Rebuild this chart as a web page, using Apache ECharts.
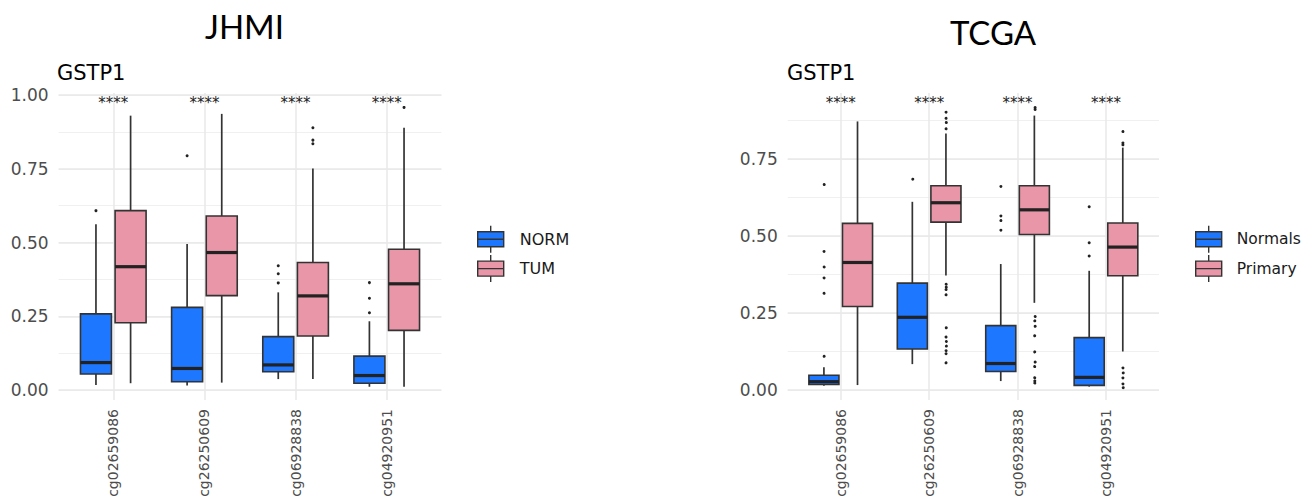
<!DOCTYPE html>
<html><head><meta charset="utf-8">
<script src="https://cdn.jsdelivr.net/npm/echarts@6/dist/echarts.min.js"></script>
<style>html,body{margin:0;padding:0;background:#fff}#c{width:1312px;height:499px}</style>
</head><body><div id="c"></div>
<script>
// ---------- data ----------
const categories = ['cg02659086', 'cg26250609', 'cg06928838', 'cg04920951'];

// JHMI boxes: [min, q1, median, q3, max]
const jhmiNorm = [[0.017, 0.054, 0.093, 0.258, 0.562], [0.015, 0.028, 0.073, 0.280, 0.495], [0.037, 0.062, 0.085, 0.181, 0.331], [0.011, 0.023, 0.049, 0.115, 0.233]];
const jhmiTum = [[0.023, 0.228, 0.418, 0.608, 0.930], [0.025, 0.320, 0.466, 0.590, 0.936], [0.037, 0.183, 0.319, 0.432, 0.751], [0.011, 0.202, 0.360, 0.477, 0.889]];
// outliers: [categoryIndex, value]
const jhmiNormOutliers = [[0, 0.608], [1, 0.794], [2, 0.421], [2, 0.394], [2, 0.363], [3, 0.364], [3, 0.311], [3, 0.262]];
const jhmiTumOutliers = [[2, 0.889], [2, 0.847], [2, 0.835], [3, 0.958]];
const jhmiSig = ['****', '****', '****', '****'];
const jhmiYTicks = [0, 0.25, 0.5, 0.75, 1.0];

// TCGA boxes: [min, q1, median, q3, max]
const tcgaNormals = [[0.014, 0.018, 0.027, 0.048, 0.074], [0.084, 0.133, 0.236, 0.347, 0.611], [0.029, 0.060, 0.086, 0.209, 0.409], [0.011, 0.015, 0.041, 0.170, 0.387]];
const tcgaPrimary = [[0.016, 0.271, 0.414, 0.541, 0.872], [0.372, 0.545, 0.608, 0.663, 0.833], [0.283, 0.505, 0.585, 0.663, 0.891], [0.125, 0.371, 0.464, 0.542, 0.787]];
const tcgaNormalsOutliers = [[0, 0.112], [0, 0.316], [0, 0.366], [0, 0.402], [0, 0.452], [0, 0.670], [1, 0.688], [2, 0.663], [2, 0.567], [2, 0.552], [2, 0.521], [3, 0.595], [3, 0.478], [3, 0.435]];
const tcgaPrimaryOutliers = [[1, 0.904], [1, 0.884], [1, 0.872], [1, 0.850], [1, 0.346], [1, 0.337], [1, 0.328], [1, 0.311], [1, 0.205], [1, 0.174], [1, 0.161], [1, 0.146], [1, 0.130], [1, 0.120], [1, 0.090],
  [2, 0.921], [2, 0.915], [2, 0.243], [2, 0.228], [2, 0.211], [2, 0.179], [2, 0.127], [2, 0.095], [2, 0.079], [2, 0.043], [2, 0.033], [2, 0.026],
  [3, 0.841], [3, 0.804], [3, 0.798], [3, 0.074], [3, 0.059], [3, 0.041], [3, 0.022], [3, 0.011]];
const tcgaSig = ['****', '****', '****', '****'];
const tcgaYTicks = [0, 0.25, 0.5, 0.75];
const tcgaMinorMax = 0.875;

// ---------- style ----------
const BLUE = '#1e78ff', PINK = '#e896a8', EDGE = '#333333';
const FONT = 'DejaVu Sans';
const BOX_HALF = 0.17, DODGE = 0.19;
const ICON = 'path://M13,0L13,6M0,6L26,6L26,21L0,21ZM0,13.5L26,13.5M13,21L13,27';

function band(api, idx) {
  const x0 = api.coord([idx, 0])[0];
  const w = Math.abs(api.coord([1, 0])[0] - api.coord([0, 0])[0]);
  return { x0, w };
}
function boxRenderer(dodge, fill) {
  return function (params, api) {
    const idx = api.value(0);
    const b = band(api, idx);
    const cx = b.x0 + dodge * DODGE * b.w;
    const hw = BOX_HALF * b.w;
    const y = k => api.coord([idx, api.value(k)])[1];
    const yMin = y(1), yQ1 = y(2), yMed = y(3), yQ3 = y(4), yMax = y(5);
    const ls = { stroke: EDGE, lineWidth: 1.7 };
    return { type: 'group', children: [
      { type: 'line', shape: { x1: cx, y1: yMax, x2: cx, y2: yQ3 }, style: ls },
      { type: 'line', shape: { x1: cx, y1: yQ1, x2: cx, y2: yMin }, style: ls },
      { type: 'rect', shape: { x: cx - hw, y: yQ3, width: 2 * hw, height: yQ1 - yQ3 }, style: { fill: fill, stroke: EDGE, lineWidth: 1.6 } },
      { type: 'line', shape: { x1: cx - hw, y1: yMed, x2: cx + hw, y2: yMed }, style: { stroke: '#222', lineWidth: 3.2 } }
    ] };
  };
}
function outlierRenderer(dodge) {
  return function (params, api) {
    const idx = api.value(0);
    const b = band(api, idx);
    const p = api.coord([idx, api.value(1)]);
    return { type: 'circle', shape: { cx: b.x0 + dodge * DODGE * b.w, cy: p[1], r: 1.5 }, style: { fill: '#222' } };
  };
}
function sigRenderer(labels, yVal) {
  return function (params, api) {
    const idx = api.value(0);
    const p = api.coord([idx, yVal]);
    return { type: 'text', x: p[0], y: p[1], style: { text: labels[params.dataIndex], align: 'center', verticalAlign: 'middle', fontSize: 15, fontFamily: FONT, fill: '#222' } };
  };
}

const boxData = arr => arr.map((b, i) => [i].concat(b));
const sigData = arr => arr.map((s, i) => [i, 0]);

// ---------- layout (pixels) ----------
const L = { minor: { left: 58.6, width: 382.8, top: 95, height: 295 }, major: { left: 58.6, width: 382.8, top: 95, height: 295 }, box: { left: 67.7, width: 364.6, top: 93, height: 307 } };
const R = { minor: { left: 787.7, width: 371.3, top: 120.5, height: 269.5 }, major: { left: 787.7, width: 371.3, top: 159, height: 231 }, box: { left: 796.5, width: 353.7, top: 93, height: 307 } };
const gridOf = g => Object.assign({ outerBoundsMode: 'none', containLabel: false }, g);

const hiddenX = (gi) => ({ type: 'value', gridIndex: gi, show: false, min: 0, max: 1 });
const minorY = (gi, max) => ({ type: 'value', gridIndex: gi, min: 0, max: max, interval: 0.125, axisLabel: { show: false }, axisLine: { show: false }, axisTick: { show: false }, splitLine: { show: true, lineStyle: { color: '#f0f0f0', width: 1 } } });
const majorY = (gi, ticks) => ({ type: 'value', gridIndex: gi, min: ticks[0], max: ticks[ticks.length - 1], interval: ticks[1] - ticks[0],
  axisLabel: { show: true, margin: 10, color: '#4d4d4d', fontSize: 17, fontFamily: FONT, formatter: v => v.toFixed(2) },
  axisLine: { show: false }, axisTick: { show: false }, splitLine: { show: true, lineStyle: { color: '#e8e8e8', width: 1.5 } } });
const boxX = (gi) => ({ type: 'category', gridIndex: gi, data: categories, boundaryGap: true,
  axisLine: { show: false }, axisTick: { show: false },
  axisLabel: { show: true, rotate: 90, margin: 9, color: '#4d4d4d', fontSize: 14, fontFamily: FONT },
  splitLine: { show: true, alignWithLabel: true, lineStyle: { color: '#e8e8e8', width: 1.5 } } });
const boxY = (gi, min, max) => ({ type: 'value', gridIndex: gi, min: min, max: max, show: false, splitLine: { show: false } });

const jhmiStarY = 0.972, tcgaStarY = 0.931;

const option = {
  backgroundColor: '#ffffff',
  animation: false,
  grid: [gridOf(L.minor), gridOf(L.major), gridOf(L.box), gridOf(R.minor), gridOf(R.major), gridOf(R.box)],
  xAxis: [hiddenX(0), hiddenX(1), boxX(2), hiddenX(3), hiddenX(4), boxX(5)],
  yAxis: [minorY(0, 1.0), majorY(1, jhmiYTicks), boxY(2, -0.0339, 1.0068), minorY(3, tcgaMinorMax), majorY(4, tcgaYTicks), boxY(5, -0.03247, 0.96429)],
  legend: [
    { left: 477, top: 225, orient: 'vertical', padding: 0, itemGap: 1, itemWidth: 26, itemHeight: 27, icon: ICON, selectedMode: false,
      data: [{ name: 'NORM', itemStyle: { color: BLUE } }, { name: 'TUM', itemStyle: { color: PINK } }],
      itemStyle: { borderColor: EDGE, borderWidth: 1.4 },
      textStyle: { fontSize: 16, color: '#1a1a1a', fontFamily: FONT, padding: [0, 0, 0, 11] } },
    { left: 1195, top: 225, orient: 'vertical', padding: 0, itemGap: 1, itemWidth: 26, itemHeight: 27, icon: ICON, selectedMode: false,
      data: [{ name: 'Normals', itemStyle: { color: BLUE } }, { name: 'Primary', itemStyle: { color: PINK } }],
      itemStyle: { borderColor: EDGE, borderWidth: 1.4 },
      textStyle: { fontSize: 15.5, color: '#1a1a1a', fontFamily: FONT, padding: [0, 0, 0, 10] } }
  ],
  graphic: [
    { type: 'text', x: 244.5, y: 26, style: { text: 'JHMI', align: 'center', verticalAlign: 'middle', fontSize: 33, fontFamily: 'Lato', fill: '#000' } },
    { type: 'text', x: 993, y: 32, style: { text: 'TCGA', align: 'center', verticalAlign: 'middle', fontSize: 33, fontFamily: 'Lato', fill: '#000' } },
    { type: 'text', x: 57, y: 73, style: { text: 'GSTP1', align: 'left', verticalAlign: 'middle', fontSize: 21, fontFamily: FONT, fill: '#000' } },
    { type: 'text', x: 787, y: 73, style: { text: 'GSTP1', align: 'left', verticalAlign: 'middle', fontSize: 21, fontFamily: FONT, fill: '#000' } }
  ],
  series: [
    { name: 'NORM', type: 'custom', xAxisIndex: 2, yAxisIndex: 2, itemStyle: { color: BLUE }, renderItem: boxRenderer(-1, BLUE), encode: { x: 0, y: [1, 2, 3, 4, 5] }, data: boxData(jhmiNorm), z: 3 },
    { name: 'NORM', type: 'custom', xAxisIndex: 2, yAxisIndex: 2, itemStyle: { color: BLUE }, renderItem: outlierRenderer(-1), encode: { x: 0, y: 1 }, data: jhmiNormOutliers, z: 4 },
    { name: 'TUM', type: 'custom', xAxisIndex: 2, yAxisIndex: 2, itemStyle: { color: PINK }, renderItem: boxRenderer(1, PINK), encode: { x: 0, y: [1, 2, 3, 4, 5] }, data: boxData(jhmiTum), z: 3 },
    { name: 'TUM', type: 'custom', xAxisIndex: 2, yAxisIndex: 2, itemStyle: { color: PINK }, renderItem: outlierRenderer(1), encode: { x: 0, y: 1 }, data: jhmiTumOutliers, z: 4 },
    { name: 'jhmiSig', type: 'custom', xAxisIndex: 2, yAxisIndex: 2, renderItem: sigRenderer(jhmiSig, jhmiStarY), encode: { x: 0, y: 1 }, data: sigData(jhmiSig), z: 5 },

    { name: 'Normals', type: 'custom', xAxisIndex: 5, yAxisIndex: 5, itemStyle: { color: BLUE }, renderItem: boxRenderer(-1, BLUE), encode: { x: 0, y: [1, 2, 3, 4, 5] }, data: boxData(tcgaNormals), z: 3 },
    { name: 'Normals', type: 'custom', xAxisIndex: 5, yAxisIndex: 5, itemStyle: { color: BLUE }, renderItem: outlierRenderer(-1), encode: { x: 0, y: 1 }, data: tcgaNormalsOutliers, z: 4 },
    { name: 'Primary', type: 'custom', xAxisIndex: 5, yAxisIndex: 5, itemStyle: { color: PINK }, renderItem: boxRenderer(1, PINK), encode: { x: 0, y: [1, 2, 3, 4, 5] }, data: boxData(tcgaPrimary), z: 3 },
    { name: 'Primary', type: 'custom', xAxisIndex: 5, yAxisIndex: 5, itemStyle: { color: PINK }, renderItem: outlierRenderer(1), encode: { x: 0, y: 1 }, data: tcgaPrimaryOutliers, z: 4 },
    { name: 'tcgaSig', type: 'custom', xAxisIndex: 5, yAxisIndex: 5, renderItem: sigRenderer(tcgaSig, tcgaStarY), encode: { x: 0, y: 1 }, data: sigData(tcgaSig), z: 5 }
  ]
};

const chart = echarts.init(document.getElementById('c'), null, { renderer: 'svg' });
chart.setOption(option);
</script>
</body></html>
